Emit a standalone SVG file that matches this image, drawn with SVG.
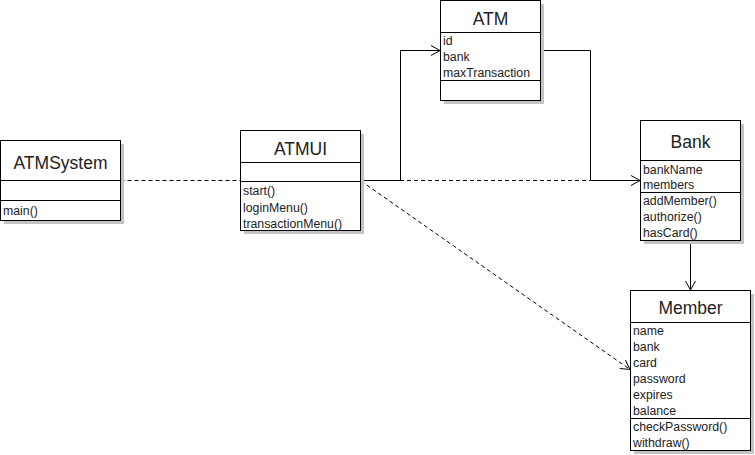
<svg xmlns="http://www.w3.org/2000/svg" width="755" height="455" viewBox="0 0 755 455">
<style>
.sh{fill:#c4c4c4}
.bx{fill:#fff;stroke:#000;stroke-width:1}
.sep{stroke:#000;stroke-width:1}
.t{font-family:"Liberation Sans",Arial,sans-serif;font-size:17.5px;fill:#222;text-anchor:middle}
.m{font-family:"Liberation Sans",Arial,sans-serif;font-size:12.3px;fill:#222}
.c{fill:none;stroke:#000;stroke-width:1}
.d{fill:none;stroke:#000;stroke-width:1;stroke-dasharray:4,3}
</style>
<defs>
<marker id="ar" markerWidth="12" markerHeight="12" refX="10" refY="6" orient="auto" markerUnits="userSpaceOnUse">
<path d="M1,1 L10,6 L1,11" fill="none" stroke="#000" stroke-width="1"/>
</marker>
</defs>
<g id="connectors">
<line class="d" x1="120.5" y1="180.5" x2="240.5" y2="180.5"/>
<line class="d" x1="400" y1="180.5" x2="590" y2="180.5"/>
<polyline class="c" points="360.5,180.5 400.5,180.5 400.5,50.5 440,50.5" marker-end="url(#ar)"/>
<polyline class="c" points="540.5,50.5 590.5,50.5 590.5,180.5 640,180.5" marker-end="url(#ar)"/>
<line class="d" x1="361" y1="181" x2="630" y2="369.5" marker-end="url(#ar)"/>
<line class="c" x1="690.5" y1="240.5" x2="690.5" y2="290" marker-end="url(#ar)"/>
</g>
<g id="ATMSystem">
<rect class="sh" x="4" y="144" width="120" height="80"/>
<rect class="bx" x="0.5" y="140.5" width="120" height="80"/>
<line class="sep" x1="0.5" y1="180.5" x2="120.5" y2="180.5"/>
<line class="sep" x1="0.5" y1="200.5" x2="120.5" y2="200.5"/>
<text class="t" x="60.5" y="169">ATMSystem</text>
<text class="m" x="3" y="215">main()</text>
</g>
<g id="ATMUI">
<rect class="sh" x="244" y="134" width="120" height="100"/>
<rect class="bx" x="240.5" y="130.5" width="120" height="100"/>
<line class="sep" x1="240.5" y1="162.5" x2="360.5" y2="162.5"/>
<line class="sep" x1="240.5" y1="181.5" x2="360.5" y2="181.5"/>
<text class="t" x="300.5" y="154.5">ATMUI</text>
<text class="m" x="243" y="195">start()</text>
<text class="m" x="243" y="211.5">loginMenu()</text>
<text class="m" x="243" y="227.5">transactionMenu()</text>
</g>
<g id="ATM">
<rect class="sh" x="444" y="4" width="100" height="100"/>
<rect class="bx" x="440.5" y="0.5" width="100" height="100"/>
<line class="sep" x1="440.5" y1="32.5" x2="540.5" y2="32.5"/>
<line class="sep" x1="440.5" y1="80.5" x2="540.5" y2="80.5"/>
<text class="t" x="490.5" y="24.5">ATM</text>
<text class="m" x="443" y="45">id</text>
<text class="m" x="443" y="61">bank</text>
<text class="m" x="443" y="77">maxTransaction</text>
</g>
<g id="Bank">
<rect class="sh" x="644" y="124" width="100" height="120"/>
<rect class="bx" x="640.5" y="120.5" width="100" height="120"/>
<line class="sep" x1="640.5" y1="160.5" x2="740.5" y2="160.5"/>
<line class="sep" x1="640.5" y1="192.5" x2="740.5" y2="192.5"/>
<text class="t" x="690.5" y="148">Bank</text>
<text class="m" x="643" y="173.5">bankName</text>
<text class="m" x="643" y="189">members</text>
<text class="m" x="643" y="205">addMember()</text>
<text class="m" x="643" y="221">authorize()</text>
<text class="m" x="643" y="236.5">hasCard()</text>
</g>
<g id="Member">
<rect class="sh" x="634" y="294" width="120" height="160"/>
<rect class="bx" x="630.5" y="290.5" width="120" height="160"/>
<line class="sep" x1="630.5" y1="322.5" x2="750.5" y2="322.5"/>
<line class="sep" x1="630.5" y1="418.5" x2="750.5" y2="418.5"/>
<text class="t" x="690.5" y="313.5">Member</text>
<text class="m" x="633" y="335">name</text>
<text class="m" x="633" y="351">bank</text>
<text class="m" x="633" y="366.5">card</text>
<text class="m" x="633" y="383">password</text>
<text class="m" x="633" y="399">expires</text>
<text class="m" x="633" y="414.5">balance</text>
<text class="m" x="633" y="431">checkPassword()</text>
<text class="m" x="633" y="446.5">withdraw()</text>
</g>
</svg>
